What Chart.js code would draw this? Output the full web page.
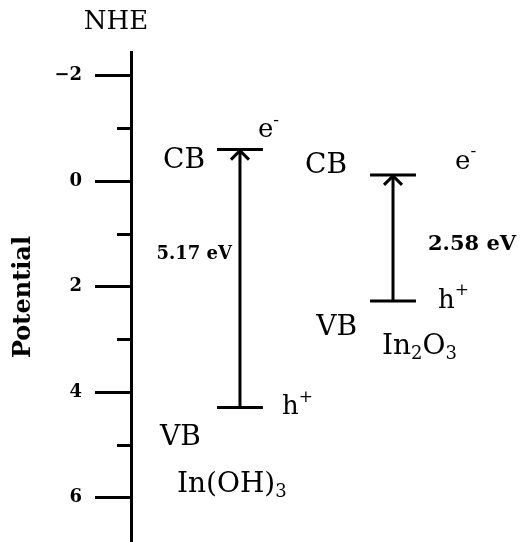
<!DOCTYPE html>
<html>
<head>
<meta charset="utf-8">
<title>In(OH)3 / In2O3 band positions</title>
<script src="https://cdn.jsdelivr.net/npm/chart.js@4.4.1/dist/chart.umd.min.js"></script>
<style>
  html, body { margin: 0; padding: 0; background: #fff; }
</style>
</head>
<body>
<canvas id="bandChart" width="526" height="542"></canvas>
<script>
// Dados (potencial vs NHE)
const materials = ['In(OH)3', 'In2O3'];
const cbEdges = [-0.60, -0.12];
const vbEdges = [4.29, 2.27];
const gapLabels = ['5.17 eV', '2.58 eV'];
const majorTicks = [-2, 0, 2, 4, 6];
const minorTicks = [-1, 1, 3, 5];

const SERIF = '"DejaVu Serif", "Liberation Serif", serif';
const HALF = 0.15;   // meia largura de cada nivel
const TEXT = 28;     // tamanho dos rotulos CB / VB / formulas

// Posicao dos textos em px, relativa a seta (cx) e aos niveis
const labelLayout = [
    { cb: [-35, 11], e: [18, -19], gap: [-8, -24, 'right'], h: [42, 0], vb: [-80, 30, 'left'], name: [-63, 77], gapSize: 18 },
    { cb: [-46, -9], e: [62, -13], gap: [35, 7, 'left'], h: [45, 0], vb: [-36, 27, 'right'], name: [-11, 46], gapSize: 21 }
];

// Montar datasets: nivel CB, nivel VB e haste da seta
const datasets = [];
materials.forEach(function(name, i) {
    const style = { borderColor: '#000', borderWidth: 3, pointRadius: 0, showLine: true, fill: false };
    datasets.push(Object.assign({ label: name + ' CB', data: [{ x: i - HALF, y: cbEdges[i] }, { x: i + HALF, y: cbEdges[i] }] }, style));
    datasets.push(Object.assign({ label: name + ' VB', data: [{ x: i - HALF, y: vbEdges[i] }, { x: i + HALF, y: vbEdges[i] }] }, style));
    datasets.push(Object.assign({ label: name + ' gap', data: [{ x: i, y: vbEdges[i] }, { x: i, y: cbEdges[i] }] }, style));
});

/**
 * Quebra a formula em partes: digitos viram subscrito
 */
function formulaParts(name) {
    return name.split(/(\d+)/).filter(Boolean).map(function(t) {
        return /^\d+$/.test(t) ? { t: t, sub: true } : { t: t };
    });
}

/**
 * Desenha texto com sobrescrito / subscrito
 */
function drawRich(ctx, parts, x, y, align, size, weight) {
    const w = weight || 'normal';
    const small = Math.round(size * 0.65);
    let total = 0;
    parts.forEach(function(p) {
        ctx.font = w + ' ' + ((p.sub || p.sup) ? small : size) + 'px ' + SERIF;
        p.w = ctx.measureText(p.t).width;
        total += p.w;
    });
    let px = align === 'right' ? x - total : x;
    ctx.textAlign = 'left';
    ctx.textBaseline = 'middle';
    parts.forEach(function(p) {
        ctx.font = w + ' ' + ((p.sub || p.sup) ? small : size) + 'px ' + SERIF;
        let py = y;
        if (p.sup) py = y - size * 0.38;
        if (p.sub) py = y + size * 0.28;
        ctx.fillText(p.t, px, py);
        px += p.w;
    });
}

const bandLabels = {
    id: 'bandLabels',
    afterDraw: function(chart) {
        const ctx = chart.ctx;
        const xs = chart.scales.x;
        const ys = chart.scales.y;
        const area = chart.chartArea;
        ctx.save();
        ctx.fillStyle = '#000';
        ctx.strokeStyle = '#000';
        ctx.lineWidth = 3;

        // ticks menores
        minorTicks.forEach(function(v) {
            const y = Math.round(ys.getPixelForValue(v)) + 0.5;
            ctx.beginPath();
            ctx.moveTo(area.left - 14, y);
            ctx.lineTo(area.left, y);
            ctx.stroke();
        });

        // NHE
        ctx.font = '26px ' + SERIF;
        ctx.textAlign = 'center';
        ctx.textBaseline = 'middle';
        ctx.fillText('NHE', area.left - 15, area.top - 30);

        materials.forEach(function(name, i) {
            const L = labelLayout[i];
            const cx = xs.getPixelForValue(i);
            const cbY = ys.getPixelForValue(cbEdges[i]);
            const vbY = ys.getPixelForValue(vbEdges[i]);
            const mid = (cbY + vbY) / 2;

            // ponta da seta
            ctx.beginPath();
            ctx.moveTo(cx - 9, cbY + 10);
            ctx.lineTo(cx, cbY + 1);
            ctx.lineTo(cx + 9, cbY + 10);
            ctx.stroke();

            drawRich(ctx, [{ t: 'CB' }], cx + L.cb[0], cbY + L.cb[1], 'right', TEXT);
            drawRich(ctx, [{ t: 'e' }, { t: '-', sup: true }], cx + L.e[0], cbY + L.e[1], 'left', 26);
            drawRich(ctx, [{ t: gapLabels[i] }], cx + L.gap[0], mid + L.gap[1], L.gap[2], L.gapSize, 'bold');
            drawRich(ctx, [{ t: 'h' }, { t: '+', sup: true }], cx + L.h[0], vbY + L.h[1], 'left', 26);
            drawRich(ctx, [{ t: 'VB' }], cx + L.vb[0], vbY + L.vb[1], L.vb[2], TEXT);
            drawRich(ctx, formulaParts(name), cx + L.name[0], vbY + L.name[1], 'left', TEXT);
        });
        ctx.restore();
    }
};

new Chart(document.getElementById('bandChart'), {
    type: 'scatter',
    data: { datasets: datasets },
    options: {
        responsive: false,
        animation: false,
        layout: { padding: { top: 52, bottom: 0, left: 0, right: 0 } },
        plugins: { legend: { display: false }, tooltip: { enabled: false } },
        scales: {
            x: { type: 'linear', display: false, min: -0.712, max: 1.869 },
            y: {
                type: 'linear',
                position: 'left',
                reverse: true,
                min: -2.45,
                max: 6.84,
                afterBuildTicks: function(scale) {
                    scale.ticks = majorTicks.map(function(v) { return { value: v }; });
                },
                afterFit: function(scale) {
                    // eixo ocupa a altura toda, sem folga para os rotulos
                    scale.width = 131;
                    scale.paddingTop = 0;
                    scale.paddingBottom = 0;
                },
                grid: { drawOnChartArea: false, drawTicks: true, tickLength: 36, tickWidth: 3, color: '#000' },
                border: { display: true, color: '#000', width: 3 },
                ticks: {
                    color: '#000',
                    padding: 13,
                    font: { family: SERIF, size: 18, weight: 'bold' },
                    callback: function(v) { return v < 0 ? '\u2212' + Math.abs(v) : String(v); }
                },
                title: {
                    display: true,
                    text: 'Potential',
                    color: '#000',
                    font: { family: SERIF, size: 24, weight: 'bold' },
                    padding: { top: 9, bottom: 0 }
                }
            }
        }
    },
    plugins: [bandLabels]
});
</script>
</body>
</html>
